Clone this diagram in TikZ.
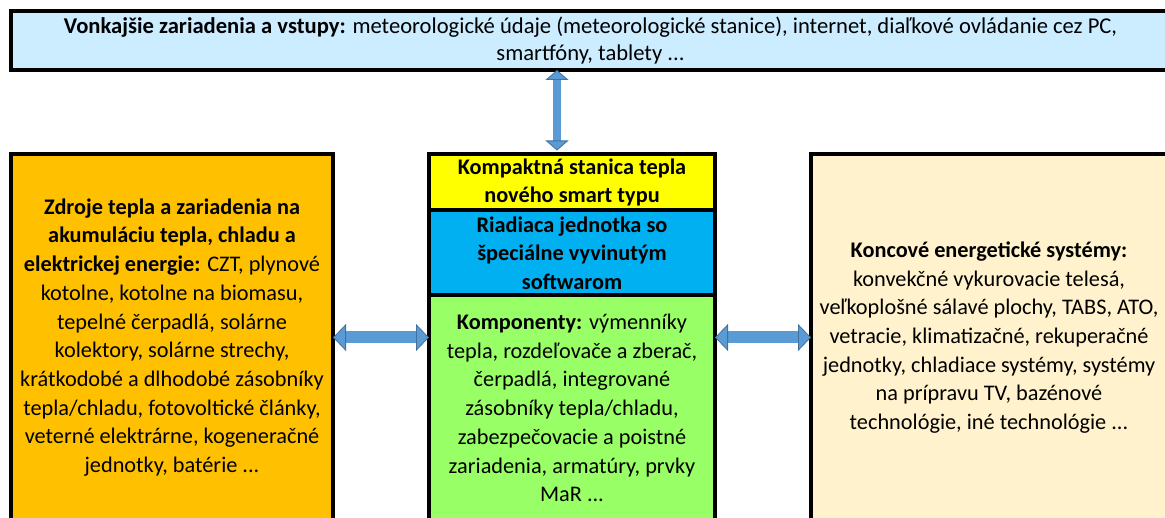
\documentclass[tikz,border=0pt]{standalone}
\usepackage{fontspec}
\setmainfont{Carlito}
\usepackage{tikz}
\usetikzlibrary{arrows.meta, positioning, calc}

\definecolor{vstupycol}{RGB}{204,236,255}
\definecolor{zdrojecol}{RGB}{255,192,0}
\definecolor{stanicacol}{RGB}{255,255,0}
\definecolor{riadeniecol}{RGB}{0,176,240}
\definecolor{komponentycol}{RGB}{153,255,102}
\definecolor{koncovecol}{RGB}{255,242,204}
\definecolor{arrowfill}{RGB}{91,155,213}
\definecolor{arrowedge}{RGB}{65,113,156}

\begin{document}
\begin{tikzpicture}[
        x=1pt, y=-1pt,
        box/.style={rectangle, draw=black, line width=4pt, outer sep=0pt, inner sep=2pt, align=center,
            font=\fontsize{22.3}{28.7}\selectfont},
        hlink/.style={line width=12pt, draw=arrowfill,
            {Triangle[length=13pt, width=27pt, line width=0.8pt, color=arrowedge, fill=arrowfill]}-{Triangle[length=13pt, width=27pt, line width=0.8pt, color=arrowedge, fill=arrowfill]}},
        vlink/.style={line width=8.5pt, draw=arrowfill, shorten >=4pt,
            {Triangle[length=10pt, width=23pt, line width=0.8pt, color=arrowedge, fill=arrowfill]}-{Triangle[length=10pt, width=23pt, line width=0.8pt, color=arrowedge, fill=arrowfill]}}
    ]
        \useasboundingbox (0,0) rectangle (1165,518);

        % External inputs
        \node[box, fill=vstupycol, minimum width=1159pt, minimum height=58.5pt,
            font=\fontsize{22.6}{27.5}\selectfont] (vstupy) at (590.5,40.75) {
            \textbf{Vonkajšie zariadenia a vstupy:} meteorologické údaje (meteorologické stanice), internet, diaľkové ovládanie cez PC,\\
            smartfóny, tablety ...
        };

        % Heat sources
        \node[box, fill=zdrojecol, minimum width=322pt, minimum height=366pt, below=84.5pt of vstupy.south west, anchor=north west] (zdroje) {
            \textbf{Zdroje tepla a zariadenia na}\\
            \textbf{akumuláciu tepla, chladu a}\\
            \textbf{elektrickej energie:} CZT, plynové\\
            kotolne, kotolne na biomasu,\\
            tepelné čerpadlá, solárne\\
            kolektory, solárne strechy,\\
            krátkodobé a dlhodobé zásobníky\\
            tepla/chladu, fotovoltické články,\\
            veterné elektrárne, kogeneračné\\
            jednotky, batérie ...
        };

        % Compact station
        \node[box, fill=stanicacol, minimum width=286pt, minimum height=56pt, right=96pt of zdroje.north east, anchor=north west] (stanica) {
            \textbf{Kompaktná stanica tepla}\\
            \textbf{nového smart typu}
        };
        \node[box, fill=riadeniecol, minimum width=286pt, minimum height=85pt, below=0pt of stanica] (riadenie) {
            \textbf{Riadiaca jednotka so}\\
            \textbf{špeciálne vyvinutým}\\
            \textbf{softwarom}
        };
        \node[box, fill=komponentycol, minimum width=286pt, minimum height=225pt, below=0pt of riadenie] (komponenty) {
            \textbf{Komponenty:} výmenníky\\
            tepla, rozdeľovače a zberač,\\
            čerpadlá, integrované\\
            zásobníky tepla/chladu,\\
            zabezpečovacie a poistné\\
            zariadenia, armatúry, prvky\\
            MaR ...
        };

        % End systems
        \node[box, fill=koncovecol, minimum width=356pt, minimum height=366pt, right=96pt of stanica.north east, anchor=north west] (koncove) {
            \textbf{Koncové energetické systémy:}\\
            konvekčné vykurovacie telesá,\\
            veľkoplošné sálavé plochy, TABS, ATO,\\
            vetracie, klimatizačné, rekuperačné\\
            jednotky, chladiace systémy, systémy\\
            na prípravu TV, bazénové\\
            technológie, iné technológie ...
        };

        % Arrows
        \coordinate (spoj) at (557,0);
        \draw[vlink] (vstupy.south -| spoj) -- (stanica.north -| spoj);
        \draw[hlink] (zdroje.east) -- (zdroje.east -| komponenty.west);
        \draw[hlink] (koncove.west -| komponenty.east) -- (koncove.west);
    \end{tikzpicture}
\end{document}
